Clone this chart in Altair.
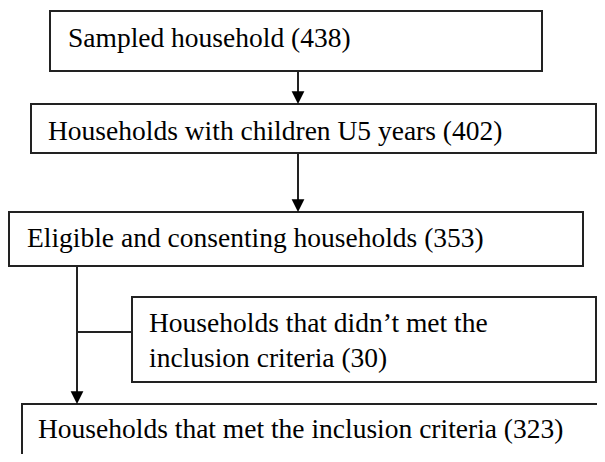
import altair as alt
import pandas as pd

# Boxes of the flow diagram (pixel layout of the reference)
box_names = ["sampled", "u5", "eligible", "excluded", "included"]
box_x1 = [50, 31, 9, 132, 22]
box_x2 = [542, 596, 583, 596, 640]
box_y1 = [11, 104, 212, 297, 404]
box_y2 = [71, 153, 266, 382, 500]

# Text lines inside the boxes (x = left edge, y = baseline)
label_text = [
    "Sampled household (438)",
    "Households with children U5 years (402)",
    "Eligible and consenting households (353)",
    "Households that didn\u2019t met the",
    "inclusion criteria (30)",
    "Households that met the inclusion criteria (323)",
]
label_x = [68, 48, 27, 149, 149, 38]
label_y = [47, 140, 247, 332, 367, 438]

# Connector lines
line_x1 = [298, 298, 77, 77]
line_x2 = [298, 298, 77, 132]
line_y1 = [71, 153, 266, 332]
line_y2 = [100, 208, 400, 332]

# Arrow heads (tip positions)
arrow_x = [298, 298, 77]
arrow_y = [104, 212, 404]

boxes = pd.DataFrame({"name": box_names, "x1": box_x1, "x2": box_x2, "y1": box_y1, "y2": box_y2})
labels = pd.DataFrame({"text": label_text, "x": label_x, "y": label_y})
lines = pd.DataFrame({"x1": line_x1, "x2": line_x2, "y1": line_y1, "y2": line_y2})
arrows = pd.DataFrame({"x": arrow_x, "y": arrow_y})

xs = alt.Scale(domain=[8, 597], nice=False, zero=False)
ys = alt.Scale(domain=[8, 454], nice=False, zero=False, reverse=True)

rects = alt.Chart(boxes).mark_rect(fill="white", stroke="#222222", strokeWidth=2).encode(
    x=alt.X("x1:Q", scale=xs, axis=None),
    x2="x2:Q",
    y=alt.Y("y1:Q", scale=ys, axis=None),
    y2="y2:Q",
)

rules = alt.Chart(lines).mark_rule(color="#222222", strokeWidth=2).encode(
    x=alt.X("x1:Q", scale=xs, axis=None),
    x2="x2:Q",
    y=alt.Y("y1:Q", scale=ys, axis=None),
    y2="y2:Q",
)

heads = alt.Chart(arrows).mark_point(
    shape="M -0.5 -1 L 0.5 -1 L 0 0 Z", filled=True, color="black", opacity=1,
    size=650, strokeWidth=0
).encode(
    x=alt.X("x:Q", scale=xs, axis=None),
    y=alt.Y("y:Q", scale=ys, axis=None),
)

texts = alt.Chart(labels).mark_text(
    align="left", baseline="alphabetic", font="Liberation Serif",
    fontSize=27.5, color="black"
).encode(
    x=alt.X("x:Q", scale=xs, axis=None),
    y=alt.Y("y:Q", scale=ys, axis=None),
    text="text:N",
)

chart = alt.layer(rects, rules, heads, texts).properties(
    width=589, height=446, padding=0, autosize=alt.AutoSizeParams(type="none"), background="white"
).configure_view(stroke=None)

chart.save("out.html", embed_options={"renderer": "svg", "actions": False})
